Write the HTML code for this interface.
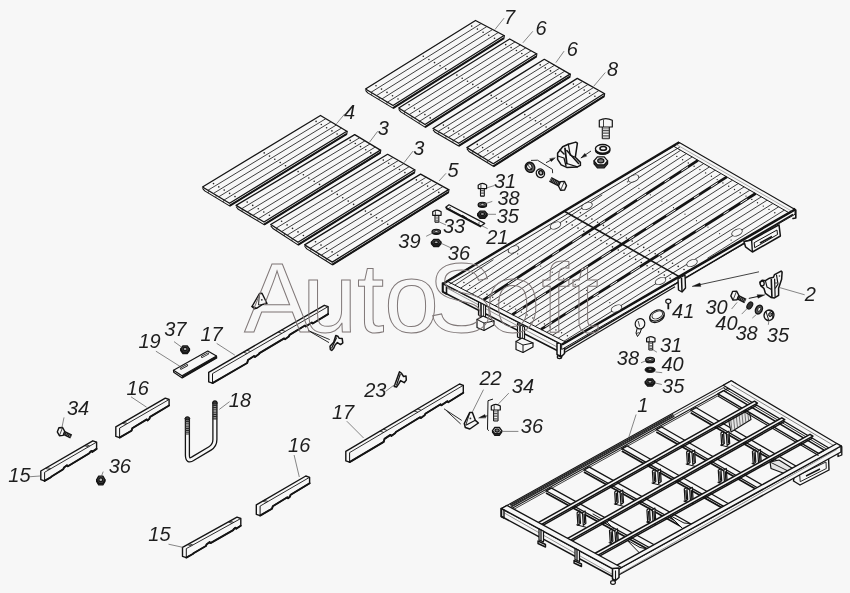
<!DOCTYPE html>
<html><head><meta charset="utf-8"><title>AutoSoft</title>
<style>
html,body{margin:0;padding:0;background:#f7f7f7;}
body{width:850px;height:593px;overflow:hidden;}
svg{display:block;will-change:transform;}
text{font-family:"Liberation Sans",sans-serif;}
.lb text{font-style:italic;fill:#1e1e1e;}
</style></head><body>
<svg width="850" height="593" viewBox="0 0 850 593">
<rect x="0" y="0" width="850" height="593" fill="#f7f7f7"/>
<polygon points="475.5,20.5 504,35.5 393,105.5 365.5,89" fill="none" stroke="#141414" stroke-width="1.3" stroke-linejoin="round" stroke-linecap="round" />
<line x1="371" y1="92.3" x2="481.2" y2="23.5" stroke="#2a2a2a" stroke-width="0.9" />
<line x1="376.5" y1="95.6" x2="486.9" y2="26.5" stroke="#2a2a2a" stroke-width="0.9" />
<line x1="382" y1="98.9" x2="492.6" y2="29.5" stroke="#2a2a2a" stroke-width="0.9" />
<line x1="387.5" y1="102.2" x2="498.3" y2="32.5" stroke="#2a2a2a" stroke-width="0.9" />
<polyline points="365.8,90.6 367.7,92.9 393,108.1 504,38.1 504.4,35.5" fill="none" stroke="#141414" stroke-width="1.1" stroke-linejoin="round" stroke-linecap="round" />
<line x1="393" y1="108.1" x2="504" y2="38.1" stroke="#141414" stroke-width="2" />
<line x1="371.6" y1="92.6" x2="371.6" y2="95.2" stroke="#141414" stroke-width="0.6" />
<line x1="379.2" y1="97.2" x2="379.2" y2="99.8" stroke="#141414" stroke-width="0.6" />
<line x1="386.9" y1="101.9" x2="386.9" y2="104.5" stroke="#141414" stroke-width="0.6" />
<circle cx="376" cy="85.8" r="0.8" fill="#222"/>
<circle cx="423.3" cy="56.3" r="0.8" fill="#222"/>
<circle cx="471.7" cy="26.1" r="0.8" fill="#222"/>
<circle cx="381.5" cy="89.1" r="0.8" fill="#222"/>
<circle cx="428.9" cy="59.5" r="0.8" fill="#222"/>
<circle cx="477.4" cy="29.1" r="0.8" fill="#222"/>
<circle cx="387" cy="92.4" r="0.8" fill="#222"/>
<circle cx="434.5" cy="62.6" r="0.8" fill="#222"/>
<circle cx="483.1" cy="32.2" r="0.8" fill="#222"/>
<circle cx="392.5" cy="95.7" r="0.8" fill="#222"/>
<circle cx="440.1" cy="65.8" r="0.8" fill="#222"/>
<circle cx="488.8" cy="35.2" r="0.8" fill="#222"/>
<circle cx="398" cy="99" r="0.8" fill="#222"/>
<circle cx="445.7" cy="68.9" r="0.8" fill="#222"/>
<circle cx="494.5" cy="38.2" r="0.8" fill="#222"/>
<polygon points="509.7,39 536.5,53.7 425,124.5 398.7,108" fill="none" stroke="#141414" stroke-width="1.3" stroke-linejoin="round" stroke-linecap="round" />
<line x1="404" y1="111.3" x2="515.1" y2="41.9" stroke="#2a2a2a" stroke-width="0.9" />
<line x1="409.2" y1="114.6" x2="520.4" y2="44.9" stroke="#2a2a2a" stroke-width="0.9" />
<line x1="414.5" y1="117.9" x2="525.8" y2="47.8" stroke="#2a2a2a" stroke-width="0.9" />
<line x1="419.7" y1="121.2" x2="531.1" y2="50.8" stroke="#2a2a2a" stroke-width="0.9" />
<polyline points="399,109.6 400.8,111.9 425,127.1 536.5,56.3 536.9,53.7" fill="none" stroke="#141414" stroke-width="1.1" stroke-linejoin="round" stroke-linecap="round" />
<line x1="425" y1="127.1" x2="536.5" y2="56.3" stroke="#141414" stroke-width="2" />
<line x1="404.5" y1="111.6" x2="404.5" y2="114.2" stroke="#141414" stroke-width="0.6" />
<line x1="411.9" y1="116.2" x2="411.9" y2="118.8" stroke="#141414" stroke-width="0.6" />
<line x1="419.2" y1="120.9" x2="419.2" y2="123.5" stroke="#141414" stroke-width="0.6" />
<circle cx="409.1" cy="104.8" r="0.8" fill="#222"/>
<circle cx="456.9" cy="75.1" r="0.8" fill="#222"/>
<circle cx="505.7" cy="44.6" r="0.8" fill="#222"/>
<circle cx="414.4" cy="108.1" r="0.8" fill="#222"/>
<circle cx="462.2" cy="78.2" r="0.8" fill="#222"/>
<circle cx="511.1" cy="47.6" r="0.8" fill="#222"/>
<circle cx="419.6" cy="111.4" r="0.8" fill="#222"/>
<circle cx="467.5" cy="81.3" r="0.8" fill="#222"/>
<circle cx="516.4" cy="50.5" r="0.8" fill="#222"/>
<circle cx="424.9" cy="114.6" r="0.8" fill="#222"/>
<circle cx="472.8" cy="84.4" r="0.8" fill="#222"/>
<circle cx="521.8" cy="53.5" r="0.8" fill="#222"/>
<circle cx="430.2" cy="117.9" r="0.8" fill="#222"/>
<circle cx="478.1" cy="87.5" r="0.8" fill="#222"/>
<circle cx="527.1" cy="56.5" r="0.8" fill="#222"/>
<polygon points="544.3,59.3 570,74.1 458.7,143.3 433,128.5" fill="none" stroke="#141414" stroke-width="1.3" stroke-linejoin="round" stroke-linecap="round" />
<line x1="438.1" y1="131.5" x2="549.4" y2="62.3" stroke="#2a2a2a" stroke-width="0.9" />
<line x1="443.3" y1="134.4" x2="554.6" y2="65.2" stroke="#2a2a2a" stroke-width="0.9" />
<line x1="448.4" y1="137.4" x2="559.7" y2="68.2" stroke="#2a2a2a" stroke-width="0.9" />
<line x1="453.6" y1="140.3" x2="564.9" y2="71.1" stroke="#2a2a2a" stroke-width="0.9" />
<polyline points="433.3,130.1 435.1,132.3 458.7,145.9 570,76.7 570.4,74.1" fill="none" stroke="#141414" stroke-width="1.1" stroke-linejoin="round" stroke-linecap="round" />
<line x1="458.7" y1="145.9" x2="570" y2="76.7" stroke="#141414" stroke-width="2" />
<line x1="438.7" y1="131.8" x2="438.7" y2="134.4" stroke="#141414" stroke-width="0.6" />
<line x1="445.9" y1="135.9" x2="445.9" y2="138.5" stroke="#141414" stroke-width="0.6" />
<line x1="453" y1="140" x2="453" y2="142.6" stroke="#141414" stroke-width="0.6" />
<circle cx="443.4" cy="125.1" r="0.8" fill="#222"/>
<circle cx="491.2" cy="95.4" r="0.8" fill="#222"/>
<circle cx="540.2" cy="64.9" r="0.8" fill="#222"/>
<circle cx="448.5" cy="128.1" r="0.8" fill="#222"/>
<circle cx="496.4" cy="98.3" r="0.8" fill="#222"/>
<circle cx="545.3" cy="67.9" r="0.8" fill="#222"/>
<circle cx="453.6" cy="131.1" r="0.8" fill="#222"/>
<circle cx="501.5" cy="101.3" r="0.8" fill="#222"/>
<circle cx="550.5" cy="70.9" r="0.8" fill="#222"/>
<circle cx="458.8" cy="134" r="0.8" fill="#222"/>
<circle cx="506.6" cy="104.3" r="0.8" fill="#222"/>
<circle cx="555.6" cy="73.8" r="0.8" fill="#222"/>
<circle cx="463.9" cy="137" r="0.8" fill="#222"/>
<circle cx="511.8" cy="107.2" r="0.8" fill="#222"/>
<circle cx="560.8" cy="76.8" r="0.8" fill="#222"/>
<polygon points="577.3,78.4 604.3,93.5 493.3,163.7 466.9,147.6" fill="none" stroke="#141414" stroke-width="1.3" stroke-linejoin="round" stroke-linecap="round" />
<line x1="472.2" y1="150.8" x2="582.7" y2="81.4" stroke="#2a2a2a" stroke-width="0.9" />
<line x1="477.5" y1="154" x2="588.1" y2="84.4" stroke="#2a2a2a" stroke-width="0.9" />
<line x1="482.7" y1="157.3" x2="593.5" y2="87.5" stroke="#2a2a2a" stroke-width="0.9" />
<line x1="488" y1="160.5" x2="598.9" y2="90.5" stroke="#2a2a2a" stroke-width="0.9" />
<polyline points="467.2,149.2 469,151.5 493.3,166.3 604.3,96.1 604.7,93.5" fill="none" stroke="#141414" stroke-width="1.1" stroke-linejoin="round" stroke-linecap="round" />
<line x1="493.3" y1="166.3" x2="604.3" y2="96.1" stroke="#141414" stroke-width="2" />
<line x1="472.7" y1="151.1" x2="472.7" y2="153.7" stroke="#141414" stroke-width="0.6" />
<line x1="480.1" y1="155.6" x2="480.1" y2="158.2" stroke="#141414" stroke-width="0.6" />
<line x1="487.5" y1="160.2" x2="487.5" y2="162.8" stroke="#141414" stroke-width="0.6" />
<circle cx="477.3" cy="144.4" r="0.8" fill="#222"/>
<circle cx="524.8" cy="114.6" r="0.8" fill="#222"/>
<circle cx="573.4" cy="84.1" r="0.8" fill="#222"/>
<circle cx="482.6" cy="147.6" r="0.8" fill="#222"/>
<circle cx="530.1" cy="117.7" r="0.8" fill="#222"/>
<circle cx="578.8" cy="87.1" r="0.8" fill="#222"/>
<circle cx="487.8" cy="150.8" r="0.8" fill="#222"/>
<circle cx="535.5" cy="120.8" r="0.8" fill="#222"/>
<circle cx="584.2" cy="90.1" r="0.8" fill="#222"/>
<circle cx="493.1" cy="154" r="0.8" fill="#222"/>
<circle cx="540.8" cy="123.9" r="0.8" fill="#222"/>
<circle cx="589.6" cy="93.2" r="0.8" fill="#222"/>
<circle cx="498.4" cy="157.2" r="0.8" fill="#222"/>
<circle cx="546.1" cy="127" r="0.8" fill="#222"/>
<circle cx="594.9" cy="96.2" r="0.8" fill="#222"/>
<polygon points="320.5,115.5 346.8,131.3 229.5,203.3 202.5,187" fill="none" stroke="#141414" stroke-width="1.3" stroke-linejoin="round" stroke-linecap="round" />
<line x1="207.9" y1="190.3" x2="325.8" y2="118.7" stroke="#2a2a2a" stroke-width="0.9" />
<line x1="213.3" y1="193.5" x2="331" y2="121.8" stroke="#2a2a2a" stroke-width="0.9" />
<line x1="218.7" y1="196.8" x2="336.3" y2="125" stroke="#2a2a2a" stroke-width="0.9" />
<line x1="224.1" y1="200" x2="341.5" y2="128.1" stroke="#2a2a2a" stroke-width="0.9" />
<polyline points="202.8,188.6 204.7,190.9 229.5,205.9 346.8,133.9 347.2,131.3" fill="none" stroke="#141414" stroke-width="1.1" stroke-linejoin="round" stroke-linecap="round" />
<line x1="229.5" y1="205.9" x2="346.8" y2="133.9" stroke="#141414" stroke-width="2" />
<line x1="208.4" y1="190.6" x2="208.4" y2="193.2" stroke="#141414" stroke-width="0.6" />
<line x1="216" y1="195.2" x2="216" y2="197.8" stroke="#141414" stroke-width="0.6" />
<line x1="223.6" y1="199.7" x2="223.6" y2="202.3" stroke="#141414" stroke-width="0.6" />
<circle cx="213.5" cy="183.6" r="0.8" fill="#222"/>
<circle cx="264.2" cy="152.9" r="0.8" fill="#222"/>
<circle cx="316.1" cy="121.4" r="0.8" fill="#222"/>
<circle cx="218.8" cy="186.9" r="0.8" fill="#222"/>
<circle cx="269.5" cy="156.1" r="0.8" fill="#222"/>
<circle cx="321.3" cy="124.5" r="0.8" fill="#222"/>
<circle cx="224.2" cy="190.1" r="0.8" fill="#222"/>
<circle cx="274.8" cy="159.3" r="0.8" fill="#222"/>
<circle cx="326.6" cy="127.7" r="0.8" fill="#222"/>
<circle cx="229.6" cy="193.4" r="0.8" fill="#222"/>
<circle cx="280.2" cy="162.5" r="0.8" fill="#222"/>
<circle cx="331.9" cy="130.9" r="0.8" fill="#222"/>
<circle cx="235" cy="196.6" r="0.8" fill="#222"/>
<circle cx="285.5" cy="165.7" r="0.8" fill="#222"/>
<circle cx="337.1" cy="134" r="0.8" fill="#222"/>
<polygon points="354.7,134.6 380.4,150.1 264,222 236.1,205.4" fill="none" stroke="#141414" stroke-width="1.3" stroke-linejoin="round" stroke-linecap="round" />
<line x1="241.7" y1="208.7" x2="359.8" y2="137.7" stroke="#2a2a2a" stroke-width="0.9" />
<line x1="247.3" y1="212" x2="365" y2="140.8" stroke="#2a2a2a" stroke-width="0.9" />
<line x1="252.8" y1="215.4" x2="370.1" y2="143.9" stroke="#2a2a2a" stroke-width="0.9" />
<line x1="258.4" y1="218.7" x2="375.3" y2="147" stroke="#2a2a2a" stroke-width="0.9" />
<polyline points="236.4,207 238.3,209.3 264,224.6 380.4,152.7 380.8,150.1" fill="none" stroke="#141414" stroke-width="1.1" stroke-linejoin="round" stroke-linecap="round" />
<line x1="264" y1="224.6" x2="380.4" y2="152.7" stroke="#141414" stroke-width="2" />
<line x1="242.2" y1="209.1" x2="242.2" y2="211.7" stroke="#141414" stroke-width="0.6" />
<line x1="250.1" y1="213.7" x2="250.1" y2="216.3" stroke="#141414" stroke-width="0.6" />
<line x1="257.9" y1="218.3" x2="257.9" y2="220.9" stroke="#141414" stroke-width="0.6" />
<circle cx="247.2" cy="202.1" r="0.8" fill="#222"/>
<circle cx="298.1" cy="171.6" r="0.8" fill="#222"/>
<circle cx="350.2" cy="140.4" r="0.8" fill="#222"/>
<circle cx="252.7" cy="205.4" r="0.8" fill="#222"/>
<circle cx="303.4" cy="174.8" r="0.8" fill="#222"/>
<circle cx="355.3" cy="143.5" r="0.8" fill="#222"/>
<circle cx="258.3" cy="208.7" r="0.8" fill="#222"/>
<circle cx="308.8" cy="178" r="0.8" fill="#222"/>
<circle cx="360.5" cy="146.6" r="0.8" fill="#222"/>
<circle cx="263.8" cy="212" r="0.8" fill="#222"/>
<circle cx="314.2" cy="181.2" r="0.8" fill="#222"/>
<circle cx="365.7" cy="149.7" r="0.8" fill="#222"/>
<circle cx="269.4" cy="215.3" r="0.8" fill="#222"/>
<circle cx="319.5" cy="184.4" r="0.8" fill="#222"/>
<circle cx="370.8" cy="152.9" r="0.8" fill="#222"/>
<polygon points="387.6,154.3 414.6,169.8 298,242.3 270.7,224.5" fill="none" stroke="#141414" stroke-width="1.3" stroke-linejoin="round" stroke-linecap="round" />
<line x1="276.2" y1="228.1" x2="393" y2="157.4" stroke="#2a2a2a" stroke-width="0.9" />
<line x1="281.6" y1="231.6" x2="398.4" y2="160.5" stroke="#2a2a2a" stroke-width="0.9" />
<line x1="287.1" y1="235.2" x2="403.8" y2="163.6" stroke="#2a2a2a" stroke-width="0.9" />
<line x1="292.5" y1="238.7" x2="409.2" y2="166.7" stroke="#2a2a2a" stroke-width="0.9" />
<polyline points="271,226.1 272.9,228.5 298,244.9 414.6,172.4 415,169.8" fill="none" stroke="#141414" stroke-width="1.1" stroke-linejoin="round" stroke-linecap="round" />
<line x1="298" y1="244.9" x2="414.6" y2="172.4" stroke="#141414" stroke-width="2" />
<line x1="276.7" y1="228.4" x2="276.7" y2="231" stroke="#141414" stroke-width="0.6" />
<line x1="284.4" y1="233.4" x2="284.4" y2="236" stroke="#141414" stroke-width="0.6" />
<line x1="292" y1="238.4" x2="292" y2="241" stroke="#141414" stroke-width="0.6" />
<circle cx="281.6" cy="221.3" r="0.8" fill="#222"/>
<circle cx="331.9" cy="191.1" r="0.8" fill="#222"/>
<circle cx="383.3" cy="160.1" r="0.8" fill="#222"/>
<circle cx="287.1" cy="224.9" r="0.8" fill="#222"/>
<circle cx="337.3" cy="194.4" r="0.8" fill="#222"/>
<circle cx="388.7" cy="163.2" r="0.8" fill="#222"/>
<circle cx="292.5" cy="228.4" r="0.8" fill="#222"/>
<circle cx="342.7" cy="197.7" r="0.8" fill="#222"/>
<circle cx="394.1" cy="166.3" r="0.8" fill="#222"/>
<circle cx="298" cy="231.9" r="0.8" fill="#222"/>
<circle cx="348.2" cy="201.1" r="0.8" fill="#222"/>
<circle cx="399.5" cy="169.5" r="0.8" fill="#222"/>
<circle cx="303.4" cy="235.5" r="0.8" fill="#222"/>
<circle cx="353.6" cy="204.4" r="0.8" fill="#222"/>
<circle cx="404.9" cy="172.6" r="0.8" fill="#222"/>
<polygon points="420.6,174.1 448.6,189.6 332.3,262.1 304.6,244.9" fill="none" stroke="#141414" stroke-width="1.3" stroke-linejoin="round" stroke-linecap="round" />
<line x1="310.1" y1="248.3" x2="426.2" y2="177.2" stroke="#2a2a2a" stroke-width="0.9" />
<line x1="315.7" y1="251.8" x2="431.8" y2="180.3" stroke="#2a2a2a" stroke-width="0.9" />
<line x1="321.2" y1="255.2" x2="437.4" y2="183.4" stroke="#2a2a2a" stroke-width="0.9" />
<line x1="326.8" y1="258.7" x2="443" y2="186.5" stroke="#2a2a2a" stroke-width="0.9" />
<polyline points="304.9,246.5 306.8,248.9 332.3,264.7 448.6,192.2 449,189.6" fill="none" stroke="#141414" stroke-width="1.1" stroke-linejoin="round" stroke-linecap="round" />
<line x1="332.3" y1="264.7" x2="448.6" y2="192.2" stroke="#141414" stroke-width="2" />
<line x1="310.7" y1="248.7" x2="310.7" y2="251.3" stroke="#141414" stroke-width="0.6" />
<line x1="318.5" y1="253.5" x2="318.5" y2="256.1" stroke="#141414" stroke-width="0.6" />
<line x1="326.2" y1="258.3" x2="326.2" y2="260.9" stroke="#141414" stroke-width="0.6" />
<circle cx="315.5" cy="241.7" r="0.8" fill="#222"/>
<circle cx="365.4" cy="211.1" r="0.8" fill="#222"/>
<circle cx="416.4" cy="179.9" r="0.8" fill="#222"/>
<circle cx="321" cy="245.1" r="0.8" fill="#222"/>
<circle cx="371" cy="214.4" r="0.8" fill="#222"/>
<circle cx="422" cy="183" r="0.8" fill="#222"/>
<circle cx="326.6" cy="248.5" r="0.8" fill="#222"/>
<circle cx="376.5" cy="217.7" r="0.8" fill="#222"/>
<circle cx="427.6" cy="186.1" r="0.8" fill="#222"/>
<circle cx="332.1" cy="251.9" r="0.8" fill="#222"/>
<circle cx="382.1" cy="220.9" r="0.8" fill="#222"/>
<circle cx="433.2" cy="189.3" r="0.8" fill="#222"/>
<circle cx="337.7" cy="255.3" r="0.8" fill="#222"/>
<circle cx="387.7" cy="224.2" r="0.8" fill="#222"/>
<circle cx="438.8" cy="192.4" r="0.8" fill="#222"/>
<polygon points="443,283.5 562,344.5 562,353 443,292" fill="#f7f7f7" stroke="#141414" stroke-width="1.5" stroke-linejoin="round" stroke-linecap="round" />
<line x1="447" y1="288" x2="560" y2="348.5" stroke="#555" stroke-width="0.6" />
<polygon points="442.5,283 446.5,285.5 446.5,294 442.5,291.5" fill="none" stroke="#141414" stroke-width="1.6" stroke-linejoin="round" stroke-linecap="round" />
<polygon points="557,343.5 564.5,341 564.5,353.5 561,357 557,354.5" fill="#f7f7f7" stroke="#141414" stroke-width="1.5" stroke-linejoin="round" stroke-linecap="round" />
<line x1="560.5" y1="344" x2="560.5" y2="356.5" stroke="#141414" stroke-width="1.2" />
<ellipse cx="559.5" cy="357" rx="2.2" ry="1.6" fill="none" stroke="#141414" stroke-width="1.2"/>
<polygon points="478.5,301.5 485.5,305 485.5,318.5 478.5,315" fill="#f7f7f7" stroke="#141414" stroke-width="1.2" stroke-linejoin="round" stroke-linecap="round" />
<line x1="481" y1="303" x2="481" y2="316.5" stroke="#141414" stroke-width="1.6" />
<line x1="483.5" y1="304.5" x2="483.5" y2="317.5" stroke="#141414" stroke-width="0.8" />
<polygon points="477,319.5 483,316 494,321 494,325 484,330.5 477,327.5" fill="#f7f7f7" stroke="#141414" stroke-width="1.2" stroke-linejoin="round" stroke-linecap="round" />
<polyline points="477,319.5 484,323 494,321" fill="none" stroke="#141414" stroke-width="1" stroke-linejoin="round" stroke-linecap="round" />
<line x1="484" y1="323" x2="484" y2="330.5" stroke="#141414" stroke-width="1" />
<polygon points="517.5,323.5 524.5,327 524.5,340.5 517.5,337" fill="#f7f7f7" stroke="#141414" stroke-width="1.2" stroke-linejoin="round" stroke-linecap="round" />
<line x1="520" y1="325" x2="520" y2="338.5" stroke="#141414" stroke-width="1.6" />
<line x1="522.5" y1="326.5" x2="522.5" y2="339.5" stroke="#141414" stroke-width="0.8" />
<polygon points="516,341.5 522,338 533,343 533,347 523,352.5 516,349.5" fill="#f7f7f7" stroke="#141414" stroke-width="1.2" stroke-linejoin="round" stroke-linecap="round" />
<polyline points="516,341.5 523,345 533,343" fill="none" stroke="#141414" stroke-width="1" stroke-linejoin="round" stroke-linecap="round" />
<line x1="523" y1="345" x2="523" y2="352.5" stroke="#141414" stroke-width="1" />
<polygon points="562,344.5 795,209.5 795,214.3 562,349.3" fill="#f7f7f7" stroke="#141414" stroke-width="1" stroke-linejoin="round" stroke-linecap="round" />
<line x1="565" y1="349.3" x2="793" y2="214.3" stroke="#141414" stroke-width="1.5" />
<line x1="565" y1="352.3" x2="675" y2="286.8" stroke="#141414" stroke-width="1.1" />
<polygon points="751.6,240 779,224.8 780.4,236 752.4,252 745.5,246.8 744,241.5" fill="#f7f7f7" stroke="#141414" stroke-width="1.5" stroke-linejoin="round" stroke-linecap="round" />
<polygon points="754.5,242.5 777,230 777.5,234.5 755,247.5" fill="none" stroke="#141414" stroke-width="1" stroke-linejoin="round" stroke-linecap="round" />
<line x1="751.6" y1="240" x2="752.4" y2="252" stroke="#141414" stroke-width="1.4" />
<line x1="760" y1="243" x2="772" y2="236.5" stroke="#141414" stroke-width="1.6" />
<line x1="744" y1="241.5" x2="751.6" y2="240" stroke="#141414" stroke-width="1" />
<polygon points="443,283.5 679.3,142.6 795,209.5 562,344.5" fill="#f7f7f7" stroke="#141414" stroke-width="1.2" stroke-linejoin="round" stroke-linecap="round" />
<line x1="444" y1="283.2" x2="679.3" y2="142.3" stroke="#141414" stroke-width="2.4" />
<line x1="449.5" y1="284.2" x2="679.8" y2="147.1" stroke="#141414" stroke-width="0.9" />
<line x1="562" y1="344.5" x2="795" y2="209.5" stroke="#141414" stroke-width="2.6" />
<line x1="673.4" y1="146.1" x2="789.2" y2="212.9" stroke="#141414" stroke-width="1" />
<line x1="676.2" y1="144.4" x2="792" y2="211.3" stroke="#666" stroke-width="0.5" />
<line x1="447" y1="281.1" x2="566" y2="342.2" stroke="#141414" stroke-width="1" />
<line x1="454.8" y1="285.1" x2="493.4" y2="259.7" stroke="#2a2a2a" stroke-width="0.9" />
<line x1="460.6" y1="288.1" x2="602.2" y2="194.9" stroke="#2a2a2a" stroke-width="0.9" />
<line x1="466.3" y1="291" x2="680.6" y2="150.3" stroke="#2a2a2a" stroke-width="0.9" />
<line x1="472" y1="294" x2="686.4" y2="153.6" stroke="#2a2a2a" stroke-width="0.9" />
<line x1="477.8" y1="296.9" x2="692.2" y2="156.9" stroke="#2a2a2a" stroke-width="0.9" />
<line x1="483.5" y1="299.9" x2="697.9" y2="160.3" stroke="#141414" stroke-width="2.8" />
<line x1="487.8" y1="297.1" x2="694.7" y2="162.4" stroke="#f7f7f7" stroke-width="1" stroke-dasharray="8 16 11 22 6 14"/>
<line x1="489.3" y1="302.8" x2="703.7" y2="163.6" stroke="#2a2a2a" stroke-width="0.9" />
<line x1="495" y1="305.8" x2="709.5" y2="166.9" stroke="#2a2a2a" stroke-width="0.9" />
<line x1="500.8" y1="308.7" x2="715.2" y2="170.2" stroke="#2a2a2a" stroke-width="0.9" />
<line x1="506.5" y1="311.7" x2="721" y2="173.6" stroke="#2a2a2a" stroke-width="0.9" />
<line x1="512.3" y1="314.6" x2="726.8" y2="176.9" stroke="#141414" stroke-width="2.8" />
<line x1="516.5" y1="311.9" x2="723.5" y2="179" stroke="#f7f7f7" stroke-width="1" stroke-dasharray="8 16 11 22 6 14"/>
<line x1="518" y1="317.6" x2="732.5" y2="180.2" stroke="#2a2a2a" stroke-width="0.9" />
<line x1="523.7" y1="320.5" x2="738.3" y2="183.5" stroke="#2a2a2a" stroke-width="0.9" />
<line x1="529.5" y1="323.5" x2="744.1" y2="186.9" stroke="#2a2a2a" stroke-width="0.9" />
<line x1="535.2" y1="326.4" x2="749.8" y2="190.2" stroke="#2a2a2a" stroke-width="0.9" />
<line x1="541" y1="329.4" x2="755.6" y2="193.5" stroke="#141414" stroke-width="2.8" />
<line x1="545.3" y1="326.7" x2="752.4" y2="195.6" stroke="#f7f7f7" stroke-width="1" stroke-dasharray="8 16 11 22 6 14"/>
<line x1="546.7" y1="332.3" x2="761.4" y2="196.8" stroke="#2a2a2a" stroke-width="0.9" />
<line x1="552.5" y1="335.3" x2="767.1" y2="200.2" stroke="#2a2a2a" stroke-width="0.9" />
<line x1="558.2" y1="338.2" x2="772.9" y2="203.5" stroke="#2a2a2a" stroke-width="0.9" />
<line x1="564" y1="341.2" x2="778.7" y2="206.8" stroke="#2a2a2a" stroke-width="0.9" />
<line x1="707.4" y1="258.3" x2="784.4" y2="210.1" stroke="#2a2a2a" stroke-width="0.9" />
<line x1="564.8" y1="211.5" x2="679.2" y2="276.6" stroke="#141414" stroke-width="1.6" />
<circle cx="463.9" cy="282.5" r="0.7" fill="#222"/>
<circle cx="469.7" cy="285.4" r="0.7" fill="#222"/>
<circle cx="566.5" cy="221.9" r="0.8" fill="#222"/>
<circle cx="580.4" cy="212.8" r="0.8" fill="#222"/>
<circle cx="517.7" cy="253.9" r="0.6" fill="#222"/>
<circle cx="627.4" cy="181.8" r="0.6" fill="#222"/>
<circle cx="475.4" cy="288.4" r="0.7" fill="#222"/>
<circle cx="572.2" cy="225" r="0.8" fill="#222"/>
<circle cx="586.1" cy="215.9" r="0.8" fill="#222"/>
<circle cx="676.8" cy="156.4" r="0.7" fill="#222"/>
<circle cx="481.2" cy="291.4" r="0.7" fill="#222"/>
<circle cx="578" cy="228.1" r="0.8" fill="#222"/>
<circle cx="591.9" cy="219.1" r="0.8" fill="#222"/>
<circle cx="682.6" cy="159.7" r="0.7" fill="#222"/>
<circle cx="529.2" cy="260" r="0.6" fill="#222"/>
<circle cx="638.9" cy="188.3" r="0.6" fill="#222"/>
<circle cx="486.9" cy="294.3" r="0.7" fill="#222"/>
<circle cx="583.8" cy="231.3" r="0.8" fill="#222"/>
<circle cx="597.6" cy="222.2" r="0.8" fill="#222"/>
<circle cx="688.3" cy="163" r="0.7" fill="#222"/>
<circle cx="492.7" cy="297.3" r="0.7" fill="#222"/>
<circle cx="589.5" cy="234.4" r="0.8" fill="#222"/>
<circle cx="603.4" cy="225.4" r="0.8" fill="#222"/>
<circle cx="694.1" cy="166.3" r="0.7" fill="#222"/>
<circle cx="540.7" cy="266.1" r="0.6" fill="#222"/>
<circle cx="650.4" cy="194.8" r="0.6" fill="#222"/>
<circle cx="498.4" cy="300.2" r="0.7" fill="#222"/>
<circle cx="595.3" cy="237.5" r="0.8" fill="#222"/>
<circle cx="609.1" cy="228.5" r="0.8" fill="#222"/>
<circle cx="699.9" cy="169.6" r="0.7" fill="#222"/>
<circle cx="504.2" cy="303.2" r="0.7" fill="#222"/>
<circle cx="601" cy="240.6" r="0.8" fill="#222"/>
<circle cx="614.9" cy="231.7" r="0.8" fill="#222"/>
<circle cx="705.6" cy="172.9" r="0.7" fill="#222"/>
<circle cx="552.2" cy="272.2" r="0.6" fill="#222"/>
<circle cx="661.9" cy="201.2" r="0.6" fill="#222"/>
<circle cx="509.9" cy="306.2" r="0.7" fill="#222"/>
<circle cx="606.8" cy="243.8" r="0.8" fill="#222"/>
<circle cx="620.7" cy="234.8" r="0.8" fill="#222"/>
<circle cx="711.4" cy="176.3" r="0.7" fill="#222"/>
<circle cx="515.6" cy="309.1" r="0.7" fill="#222"/>
<circle cx="612.5" cy="246.9" r="0.8" fill="#222"/>
<circle cx="626.4" cy="238" r="0.8" fill="#222"/>
<circle cx="717.2" cy="179.6" r="0.7" fill="#222"/>
<circle cx="563.7" cy="278.3" r="0.6" fill="#222"/>
<circle cx="673.5" cy="207.7" r="0.6" fill="#222"/>
<circle cx="521.4" cy="312.1" r="0.7" fill="#222"/>
<circle cx="618.3" cy="250" r="0.8" fill="#222"/>
<circle cx="632.2" cy="241.1" r="0.8" fill="#222"/>
<circle cx="722.9" cy="182.9" r="0.7" fill="#222"/>
<circle cx="527.1" cy="315" r="0.7" fill="#222"/>
<circle cx="624" cy="253.2" r="0.8" fill="#222"/>
<circle cx="637.9" cy="244.3" r="0.8" fill="#222"/>
<circle cx="728.7" cy="186.2" r="0.7" fill="#222"/>
<circle cx="575.2" cy="284.3" r="0.6" fill="#222"/>
<circle cx="685" cy="214.2" r="0.6" fill="#222"/>
<circle cx="532.9" cy="318" r="0.7" fill="#222"/>
<circle cx="629.8" cy="256.3" r="0.8" fill="#222"/>
<circle cx="643.7" cy="247.4" r="0.8" fill="#222"/>
<circle cx="734.5" cy="189.5" r="0.7" fill="#222"/>
<circle cx="538.6" cy="321" r="0.7" fill="#222"/>
<circle cx="635.6" cy="259.4" r="0.8" fill="#222"/>
<circle cx="649.4" cy="250.6" r="0.8" fill="#222"/>
<circle cx="740.2" cy="192.8" r="0.7" fill="#222"/>
<circle cx="586.7" cy="290.4" r="0.6" fill="#222"/>
<circle cx="696.5" cy="220.7" r="0.6" fill="#222"/>
<circle cx="544.4" cy="323.9" r="0.7" fill="#222"/>
<circle cx="641.3" cy="262.5" r="0.8" fill="#222"/>
<circle cx="655.2" cy="253.7" r="0.8" fill="#222"/>
<circle cx="746" cy="196.1" r="0.7" fill="#222"/>
<circle cx="550.1" cy="326.9" r="0.7" fill="#222"/>
<circle cx="647.1" cy="265.7" r="0.8" fill="#222"/>
<circle cx="661" cy="256.9" r="0.8" fill="#222"/>
<circle cx="751.8" cy="199.4" r="0.7" fill="#222"/>
<circle cx="598.2" cy="296.5" r="0.6" fill="#222"/>
<circle cx="708" cy="227.1" r="0.6" fill="#222"/>
<circle cx="555.9" cy="329.9" r="0.7" fill="#222"/>
<circle cx="652.8" cy="268.8" r="0.8" fill="#222"/>
<circle cx="666.7" cy="260" r="0.8" fill="#222"/>
<circle cx="757.5" cy="202.8" r="0.7" fill="#222"/>
<circle cx="561.6" cy="332.8" r="0.7" fill="#222"/>
<circle cx="658.6" cy="271.9" r="0.8" fill="#222"/>
<circle cx="672.5" cy="263.2" r="0.8" fill="#222"/>
<circle cx="763.3" cy="206.1" r="0.7" fill="#222"/>
<circle cx="609.8" cy="302.6" r="0.6" fill="#222"/>
<circle cx="719.6" cy="233.6" r="0.6" fill="#222"/>
<circle cx="567.4" cy="335.8" r="0.7" fill="#222"/>
<circle cx="664.3" cy="275.1" r="0.8" fill="#222"/>
<circle cx="678.2" cy="266.4" r="0.8" fill="#222"/>
<circle cx="769" cy="209.4" r="0.7" fill="#222"/>
<circle cx="670.1" cy="278.2" r="0.8" fill="#222"/>
<circle cx="684" cy="269.5" r="0.8" fill="#222"/>
<circle cx="774.8" cy="212.7" r="0.7" fill="#222"/>
<circle cx="731.1" cy="240.1" r="0.6" fill="#222"/>
<ellipse cx="633.5" cy="178.5" rx="5.6" ry="3.1" fill="#f7f7f7" stroke="#333" stroke-width="0.9" transform="rotate(-24 633.5 178.5)"/>
<ellipse cx="587" cy="206" rx="5.6" ry="3.1" fill="#f7f7f7" stroke="#333" stroke-width="0.9" transform="rotate(-24 587 206)"/>
<ellipse cx="555.5" cy="225.5" rx="5.6" ry="3.1" fill="#f7f7f7" stroke="#333" stroke-width="0.9" transform="rotate(-24 555.5 225.5)"/>
<ellipse cx="513.5" cy="249.5" rx="5.6" ry="3.1" fill="#f7f7f7" stroke="#333" stroke-width="0.9" transform="rotate(-24 513.5 249.5)"/>
<ellipse cx="737" cy="232.5" rx="5.6" ry="3.1" fill="#f7f7f7" stroke="#333" stroke-width="0.9" transform="rotate(-24 737 232.5)"/>
<ellipse cx="692" cy="263" rx="5.6" ry="3.1" fill="#f7f7f7" stroke="#333" stroke-width="0.9" transform="rotate(-24 692 263)"/>
<ellipse cx="660.5" cy="281" rx="5.6" ry="3.1" fill="#f7f7f7" stroke="#333" stroke-width="0.9" transform="rotate(-24 660.5 281)"/>
<ellipse cx="616.5" cy="308.5" rx="5.6" ry="3.1" fill="#f7f7f7" stroke="#333" stroke-width="0.9" transform="rotate(-24 616.5 308.5)"/>
<polyline points="794,208.5 795.8,210 795.8,218 793,218.5" fill="none" stroke="#141414" stroke-width="1.6" stroke-linejoin="round" stroke-linecap="round" />
<polygon points="678,279 685,275 685.5,288 682,292 678.5,290" fill="#f7f7f7" stroke="#141414" stroke-width="1.4" stroke-linejoin="round" stroke-linecap="round" />
<line x1="681.5" y1="278" x2="682" y2="291.5" stroke="#141414" stroke-width="1.5" />
<polygon points="546,490.7 652.9,549.5 657.8,546.8 551.1,487.9" fill="#f7f7f7" stroke="#141414" stroke-width="1.3" stroke-linejoin="round" stroke-linecap="round" />
<line x1="546" y1="493.1" x2="652.9" y2="551.9" stroke="#141414" stroke-width="1.7" />
<polygon points="577.1,512.8 579.7,511 580.5,523.3 577.9,525.3" fill="#f7f7f7" stroke="#141414" stroke-width="1.2" stroke-linejoin="round" stroke-linecap="round" />
<line x1="578.7" y1="513.8" x2="579.3" y2="523.3" stroke="#141414" stroke-width="1.3" />
<polygon points="582.5,512.8 585.1,511 585.9,523.3 583.3,525.3" fill="#f7f7f7" stroke="#141414" stroke-width="1.2" stroke-linejoin="round" stroke-linecap="round" />
<line x1="584.1" y1="513.8" x2="584.7" y2="523.3" stroke="#141414" stroke-width="1.3" />
<line x1="576.3" y1="524.8" x2="586.3" y2="527.3" stroke="#141414" stroke-width="1" />
<polygon points="609.5,530.6 612.1,528.8 612.9,541.1 610.3,543.1" fill="#f7f7f7" stroke="#141414" stroke-width="1.2" stroke-linejoin="round" stroke-linecap="round" />
<line x1="611.1" y1="531.6" x2="611.7" y2="541.1" stroke="#141414" stroke-width="1.3" />
<polygon points="614.9,530.6 617.5,528.8 618.3,541.1 615.7,543.1" fill="#f7f7f7" stroke="#141414" stroke-width="1.2" stroke-linejoin="round" stroke-linecap="round" />
<line x1="616.5" y1="531.6" x2="617.1" y2="541.1" stroke="#141414" stroke-width="1.3" />
<line x1="608.7" y1="542.6" x2="618.7" y2="545.1" stroke="#141414" stroke-width="1" />
<polygon points="583.9,469.7 690,529 695,526.2 589,466.9" fill="#f7f7f7" stroke="#141414" stroke-width="1.3" stroke-linejoin="round" stroke-linecap="round" />
<line x1="583.9" y1="472.1" x2="690" y2="531.4" stroke="#141414" stroke-width="1.7" />
<polygon points="614.7,491.9 617.3,490.1 618.1,502.4 615.5,504.4" fill="#f7f7f7" stroke="#141414" stroke-width="1.2" stroke-linejoin="round" stroke-linecap="round" />
<line x1="616.3" y1="492.9" x2="616.9" y2="502.4" stroke="#141414" stroke-width="1.3" />
<polygon points="620.1,491.9 622.7,490.1 623.5,502.4 620.9,504.4" fill="#f7f7f7" stroke="#141414" stroke-width="1.2" stroke-linejoin="round" stroke-linecap="round" />
<line x1="621.7" y1="492.9" x2="622.3" y2="502.4" stroke="#141414" stroke-width="1.3" />
<line x1="613.9" y1="503.9" x2="623.9" y2="506.4" stroke="#141414" stroke-width="1" />
<polygon points="646.9,509.9 649.5,508.1 650.3,520.4 647.7,522.4" fill="#f7f7f7" stroke="#141414" stroke-width="1.2" stroke-linejoin="round" stroke-linecap="round" />
<line x1="648.5" y1="510.9" x2="649.1" y2="520.4" stroke="#141414" stroke-width="1.3" />
<polygon points="652.3,509.9 654.9,508.1 655.7,520.4 653.1,522.4" fill="#f7f7f7" stroke="#141414" stroke-width="1.2" stroke-linejoin="round" stroke-linecap="round" />
<line x1="653.9" y1="510.9" x2="654.5" y2="520.4" stroke="#141414" stroke-width="1.3" />
<line x1="646.1" y1="521.9" x2="656.1" y2="524.4" stroke="#141414" stroke-width="1" />
<polygon points="621.8,448.6 727.2,508.4 732.1,505.7 626.9,445.8" fill="#f7f7f7" stroke="#141414" stroke-width="1.3" stroke-linejoin="round" stroke-linecap="round" />
<line x1="621.8" y1="451" x2="727.2" y2="510.8" stroke="#141414" stroke-width="1.7" />
<polygon points="652.4,471 655,469.2 655.8,481.5 653.2,483.5" fill="#f7f7f7" stroke="#141414" stroke-width="1.2" stroke-linejoin="round" stroke-linecap="round" />
<line x1="654" y1="472" x2="654.6" y2="481.5" stroke="#141414" stroke-width="1.3" />
<polygon points="657.8,471 660.4,469.2 661.2,481.5 658.6,483.5" fill="#f7f7f7" stroke="#141414" stroke-width="1.2" stroke-linejoin="round" stroke-linecap="round" />
<line x1="659.4" y1="472" x2="660" y2="481.5" stroke="#141414" stroke-width="1.3" />
<line x1="651.6" y1="483" x2="661.6" y2="485.5" stroke="#141414" stroke-width="1" />
<polygon points="684.3,489.1 686.9,487.3 687.7,499.6 685.1,501.6" fill="#f7f7f7" stroke="#141414" stroke-width="1.2" stroke-linejoin="round" stroke-linecap="round" />
<line x1="685.9" y1="490.1" x2="686.5" y2="499.6" stroke="#141414" stroke-width="1.3" />
<polygon points="689.7,489.1 692.3,487.3 693.1,499.6 690.5,501.6" fill="#f7f7f7" stroke="#141414" stroke-width="1.2" stroke-linejoin="round" stroke-linecap="round" />
<line x1="691.3" y1="490.1" x2="691.9" y2="499.6" stroke="#141414" stroke-width="1.3" />
<line x1="683.5" y1="501.1" x2="693.5" y2="503.6" stroke="#141414" stroke-width="1" />
<polygon points="656.3,429.5 760.9,489.7 765.9,487 661.3,426.7" fill="#f7f7f7" stroke="#141414" stroke-width="1.3" stroke-linejoin="round" stroke-linecap="round" />
<line x1="656.3" y1="431.9" x2="760.9" y2="492.1" stroke="#141414" stroke-width="1.7" />
<polygon points="686.6,452 689.2,450.2 690,462.5 687.4,464.5" fill="#f7f7f7" stroke="#141414" stroke-width="1.2" stroke-linejoin="round" stroke-linecap="round" />
<line x1="688.2" y1="453" x2="688.8" y2="462.5" stroke="#141414" stroke-width="1.3" />
<polygon points="692,452 694.6,450.2 695.4,462.5 692.8,464.5" fill="#f7f7f7" stroke="#141414" stroke-width="1.2" stroke-linejoin="round" stroke-linecap="round" />
<line x1="693.6" y1="453" x2="694.2" y2="462.5" stroke="#141414" stroke-width="1.3" />
<line x1="685.8" y1="464" x2="695.8" y2="466.5" stroke="#141414" stroke-width="1" />
<polygon points="718.3,470.3 720.9,468.5 721.7,480.8 719.1,482.8" fill="#f7f7f7" stroke="#141414" stroke-width="1.2" stroke-linejoin="round" stroke-linecap="round" />
<line x1="719.9" y1="471.3" x2="720.5" y2="480.8" stroke="#141414" stroke-width="1.3" />
<polygon points="723.7,470.3 726.3,468.5 727.1,480.8 724.5,482.8" fill="#f7f7f7" stroke="#141414" stroke-width="1.2" stroke-linejoin="round" stroke-linecap="round" />
<line x1="725.3" y1="471.3" x2="725.9" y2="480.8" stroke="#141414" stroke-width="1.3" />
<line x1="717.5" y1="482.3" x2="727.5" y2="484.8" stroke="#141414" stroke-width="1" />
<polygon points="690.7,410.3 794.7,471 799.7,468.3 695.8,407.5" fill="#f7f7f7" stroke="#141414" stroke-width="1.3" stroke-linejoin="round" stroke-linecap="round" />
<line x1="690.7" y1="412.7" x2="794.7" y2="473.4" stroke="#141414" stroke-width="1.7" />
<polygon points="720.9,433 723.5,431.2 724.3,443.5 721.7,445.5" fill="#f7f7f7" stroke="#141414" stroke-width="1.2" stroke-linejoin="round" stroke-linecap="round" />
<line x1="722.5" y1="434" x2="723.1" y2="443.5" stroke="#141414" stroke-width="1.3" />
<polygon points="726.3,433 728.9,431.2 729.7,443.5 727.1,445.5" fill="#f7f7f7" stroke="#141414" stroke-width="1.2" stroke-linejoin="round" stroke-linecap="round" />
<line x1="727.9" y1="434" x2="728.5" y2="443.5" stroke="#141414" stroke-width="1.3" />
<line x1="720.1" y1="445" x2="730.1" y2="447.5" stroke="#141414" stroke-width="1" />
<polygon points="752.4,451.4 755,449.6 755.8,461.9 753.2,463.9" fill="#f7f7f7" stroke="#141414" stroke-width="1.2" stroke-linejoin="round" stroke-linecap="round" />
<line x1="754" y1="452.4" x2="754.6" y2="461.9" stroke="#141414" stroke-width="1.3" />
<polygon points="757.8,451.4 760.4,449.6 761.2,461.9 758.6,463.9" fill="#f7f7f7" stroke="#141414" stroke-width="1.2" stroke-linejoin="round" stroke-linecap="round" />
<line x1="759.4" y1="452.4" x2="760" y2="461.9" stroke="#141414" stroke-width="1.3" />
<line x1="751.6" y1="463.4" x2="761.6" y2="465.9" stroke="#141414" stroke-width="1" />
<polygon points="770,462 779,460 795,470 787,474.5 771,468.5" fill="#e6e6e6" stroke="#141414" stroke-width="1.2" stroke-linejoin="round" stroke-linecap="round" />
<line x1="770" y1="462" x2="787" y2="470.5" stroke="#141414" stroke-width="0.9" />
<line x1="787" y1="470.5" x2="795" y2="470" stroke="#141414" stroke-width="0.9" />
<line x1="787" y1="470.5" x2="787" y2="474.5" stroke="#141414" stroke-width="0.9" />
<polygon points="669,515 684,523 700,524.5 683,528.5" fill="#f7f7f7" stroke="#141414" stroke-width="1" stroke-linejoin="round" stroke-linecap="round" />
<polygon points="627,540 640,547.5 653,550 640,553" fill="#f7f7f7" stroke="#141414" stroke-width="1" stroke-linejoin="round" stroke-linecap="round" />
<polyline points="593,514 607,522 614,529" fill="none" stroke="#141414" stroke-width="0.9" stroke-linejoin="round" stroke-linecap="round" />
<polyline points="703,497 722,507.5 735,506" fill="none" stroke="#141414" stroke-width="0.9" stroke-linejoin="round" stroke-linecap="round" />
<polygon points="728,417 748,406 751,419.5 731,432" fill="#e4e4e4" stroke="#141414" stroke-width="1.1" stroke-linejoin="round" stroke-linecap="round" />
<line x1="730.5" y1="417.5" x2="731.9" y2="430.5" stroke="#444" stroke-width="0.7" />
<line x1="733.3" y1="415.9" x2="734.7" y2="428.9" stroke="#444" stroke-width="0.7" />
<line x1="736.1" y1="414.4" x2="737.5" y2="427.4" stroke="#444" stroke-width="0.7" />
<line x1="738.9" y1="412.9" x2="740.3" y2="425.9" stroke="#444" stroke-width="0.7" />
<line x1="741.7" y1="411.3" x2="743.1" y2="424.3" stroke="#444" stroke-width="0.7" />
<line x1="744.5" y1="409.8" x2="745.9" y2="422.8" stroke="#444" stroke-width="0.7" />
<line x1="747.3" y1="408.2" x2="748.7" y2="421.2" stroke="#444" stroke-width="0.7" />
<polygon points="794.5,473 828.5,456.5 829,470 800,485 793.5,481" fill="#f7f7f7" stroke="#141414" stroke-width="1.4" stroke-linejoin="round" stroke-linecap="round" />
<polygon points="800,474.5 826,462 826.3,468.5 800.6,481.5" fill="none" stroke="#141414" stroke-width="0.9" stroke-linejoin="round" stroke-linecap="round" />
<line x1="800" y1="474.5" x2="794.5" y2="473" stroke="#141414" stroke-width="1" />
<line x1="806" y1="476" x2="820" y2="469" stroke="#141414" stroke-width="1.5" />
<polygon points="501.5,508.5 731.3,380.8 736.2,383.7 506.7,511.3" fill="#f7f7f7" stroke="#141414" stroke-width="1.1" stroke-linejoin="round" stroke-linecap="round" />
<line x1="510.7" y1="505.9" x2="673.8" y2="415.3" stroke="#2a2a2a" stroke-width="3.6" />
<line x1="510.7" y1="505.9" x2="673.8" y2="415.3" stroke="#777" stroke-width="1.2" stroke-dasharray="0.8 1.6"/>
<line x1="673.8" y1="415.3" x2="728.9" y2="384.7" stroke="#555" stroke-width="1" />
<line x1="506.7" y1="513.3" x2="736.2" y2="385.7" stroke="#141414" stroke-width="0.8" />
<polygon points="731.3,380.8 841,446 833.1,450.4 723.3,385.3" fill="#f7f7f7" stroke="#141414" stroke-width="1.2" stroke-linejoin="round" stroke-linecap="round" />
<line x1="731.1" y1="384.7" x2="834.3" y2="445.9" stroke="#555" stroke-width="0.7" />
<line x1="723.3" y1="387.8" x2="833.1" y2="452.9" stroke="#141414" stroke-width="0.9" />
<polyline points="840.5,445.5 841.8,446.8 841.8,455 838,456.5 838,448" fill="none" stroke="#141414" stroke-width="1.3" stroke-linejoin="round" stroke-linecap="round" />
<polygon points="616,570.5 841,446 841,452 616,576.5" fill="#f7f7f7" stroke="#141414" stroke-width="1.4" stroke-linejoin="round" stroke-linecap="round" />
<polygon points="616,570.5 841,446 836.8,443.5 611.6,568.1" fill="#f7f7f7" stroke="#141414" stroke-width="1.4" stroke-linejoin="round" stroke-linecap="round" />
<line x1="620" y1="573.5" x2="837" y2="449.4" stroke="#555" stroke-width="0.6" />
<polygon points="723.6,390.7 824.2,450.2 818.6,453.4 717.9,393.9" fill="#f7f7f7" stroke="#141414" stroke-width="1.4" stroke-linejoin="round" stroke-linecap="round" />
<line x1="717.9" y1="396.1" x2="818.6" y2="455.6" stroke="#141414" stroke-width="1.2" />
<polygon points="535.5,524.2 754.5,401.2 757.4,403.1 538.4,526.1" fill="#f7f7f7" stroke="#141414" stroke-width="1.5" stroke-linejoin="round" stroke-linecap="round" />
<line x1="538.4" y1="527.8" x2="757.4" y2="404.8" stroke="#141414" stroke-width="1.5" />
<polygon points="565,539.8 781.8,417.8 784.7,419.7 567.9,541.7" fill="#f7f7f7" stroke="#141414" stroke-width="1.5" stroke-linejoin="round" stroke-linecap="round" />
<line x1="567.9" y1="543.4" x2="784.7" y2="421.4" stroke="#141414" stroke-width="1.5" />
<polygon points="592,555 810,434.3 812.9,436.2 594.9,556.9" fill="#f7f7f7" stroke="#141414" stroke-width="1.5" stroke-linejoin="round" stroke-linecap="round" />
<line x1="594.9" y1="558.6" x2="812.9" y2="437.9" stroke="#141414" stroke-width="1.5" />
<polygon points="501.5,508.5 616,570.5 616,578.5 501.5,516.5" fill="#f7f7f7" stroke="#141414" stroke-width="1.5" stroke-linejoin="round" stroke-linecap="round" />
<polygon points="501.5,508.5 616,570.5 621.4,567.5 507,505.4" fill="#f7f7f7" stroke="#141414" stroke-width="1.4" stroke-linejoin="round" stroke-linecap="round" />
<line x1="504.5" y1="513.1" x2="613" y2="574.7" stroke="#555" stroke-width="0.6" />
<polyline points="501,508.5 501,516.5 504,518 504,510" fill="none" stroke="#141414" stroke-width="1.4" stroke-linejoin="round" stroke-linecap="round" />
<polygon points="612.5,568.5 619,568 619,577.5 615.5,580.5 612.5,579" fill="#f7f7f7" stroke="#141414" stroke-width="1.5" stroke-linejoin="round" stroke-linecap="round" />
<line x1="615.5" y1="570.5" x2="615.5" y2="580.5" stroke="#141414" stroke-width="1.1" />
<ellipse cx="613" cy="582.5" rx="2.4" ry="1.8" fill="none" stroke="#141414" stroke-width="1.2"/>
<polygon points="539,529 543.5,531.2 543.5,542 539,540" fill="#f7f7f7" stroke="#141414" stroke-width="1.2" stroke-linejoin="round" stroke-linecap="round" />
<line x1="541" y1="530" x2="541" y2="541" stroke="#141414" stroke-width="1.3" />
<polygon points="538,541 545.5,544.5 545.5,547 538,543.5" fill="#f7f7f7" stroke="#141414" stroke-width="1.4" stroke-linejoin="round" stroke-linecap="round" />
<polygon points="575,548.5 579.5,550.7 579.5,561.5 575,559.5" fill="#f7f7f7" stroke="#141414" stroke-width="1.2" stroke-linejoin="round" stroke-linecap="round" />
<line x1="577" y1="549.5" x2="577" y2="560.5" stroke="#141414" stroke-width="1.3" />
<polygon points="574,560.5 581.5,564 581.5,566.5 574,563" fill="#f7f7f7" stroke="#141414" stroke-width="1.4" stroke-linejoin="round" stroke-linecap="round" />
<polygon points="40.8,471 92.8,440.8 96.6,442.1 96.6,448.9 92.2,451.9 91.4,450.9 90.1,452.1 89.3,453.3 67.8,466.3 67,465.3 64.1,467.4 63.3,469.2 51.6,476.5 50.8,477.3 44.6,480.9 40.8,479.6" fill="#f7f7f7" stroke="#141414" stroke-width="1.4" stroke-linejoin="round" stroke-linecap="round" />
<polyline points="44.6,480.9 50.8,477.3 51.6,476.5 63.3,469.2 64.1,467.4 67,465.3 67.8,466.3 89.3,453.3 90.1,452.1 91.4,450.9 92.2,451.9 96.6,448.9" fill="none" stroke="#141414" stroke-width="1.9" stroke-linejoin="round" stroke-linecap="round" />
<line x1="44.6" y1="472.3" x2="96.6" y2="442.1" stroke="#141414" stroke-width="0.9" />
<line x1="44.6" y1="472.3" x2="44.6" y2="480.9" stroke="#141414" stroke-width="1" />
<line x1="45.5" y1="468.3" x2="49.3" y2="469.6" stroke="#141414" stroke-width="0.8" />
<line x1="47" y1="467.4" x2="50.8" y2="468.7" stroke="#141414" stroke-width="0.8" />
<line x1="84.5" y1="445.6" x2="88.3" y2="446.9" stroke="#141414" stroke-width="0.8" />
<line x1="86" y1="444.7" x2="89.8" y2="446" stroke="#141414" stroke-width="0.8" />
<polygon points="115.8,426.8 165.3,398.2 169.1,399.5 169.1,405.5 150.1,416.9 149.3,418.9 147.6,420.4 146.8,419.4 132.3,428.2 131.5,430.7 119.6,437.6 115.8,436.3" fill="#f7f7f7" stroke="#141414" stroke-width="1.4" stroke-linejoin="round" stroke-linecap="round" />
<polyline points="119.6,437.6 131.5,430.7 132.3,428.2 146.8,419.4 147.6,420.4 149.3,418.9 150.1,416.9 169.1,405.5" fill="none" stroke="#141414" stroke-width="1.9" stroke-linejoin="round" stroke-linecap="round" />
<line x1="119.6" y1="428.1" x2="169.1" y2="399.5" stroke="#141414" stroke-width="0.9" />
<line x1="119.6" y1="428.1" x2="119.6" y2="437.6" stroke="#141414" stroke-width="1" />
<line x1="122.2" y1="423.1" x2="126" y2="424.4" stroke="#141414" stroke-width="0.8" />
<line x1="123.7" y1="422.2" x2="127.5" y2="423.5" stroke="#141414" stroke-width="0.8" />
<polygon points="182.5,547.3 237,517.2 240.8,518.5 240.8,525.7 236.2,528.7 235.4,527.7 234,528.9 233.2,530.1 210.5,543.1 209.7,542.1 206.7,544.2 205.9,546 193.6,553.2 192.8,554 186.3,557.6 182.5,556.3" fill="#f7f7f7" stroke="#141414" stroke-width="1.4" stroke-linejoin="round" stroke-linecap="round" />
<polyline points="186.3,557.6 192.8,554 193.6,553.2 205.9,546 206.7,544.2 209.7,542.1 210.5,543.1 233.2,530.1 234,528.9 235.4,527.7 236.2,528.7 240.8,525.7" fill="none" stroke="#141414" stroke-width="1.9" stroke-linejoin="round" stroke-linecap="round" />
<line x1="186.3" y1="548.6" x2="240.8" y2="518.5" stroke="#141414" stroke-width="0.9" />
<line x1="186.3" y1="548.6" x2="186.3" y2="557.6" stroke="#141414" stroke-width="1" />
<line x1="187.4" y1="544.6" x2="191.2" y2="545.9" stroke="#141414" stroke-width="0.8" />
<line x1="189" y1="543.7" x2="192.8" y2="545" stroke="#141414" stroke-width="0.8" />
<line x1="228.3" y1="522" x2="232.1" y2="523.3" stroke="#141414" stroke-width="0.8" />
<line x1="229.9" y1="521.1" x2="233.7" y2="522.4" stroke="#141414" stroke-width="0.8" />
<polygon points="256.3,504.8 305.8,476 309.6,477.3 309.6,483.3 290.6,494.8 289.8,496.8 288.1,498.3 287.3,497.3 272.8,506.2 272,508.7 260.1,515.6 256.3,514.3" fill="#f7f7f7" stroke="#141414" stroke-width="1.4" stroke-linejoin="round" stroke-linecap="round" />
<polyline points="260.1,515.6 272,508.7 272.8,506.2 287.3,497.3 288.1,498.3 289.8,496.8 290.6,494.8 309.6,483.3" fill="none" stroke="#141414" stroke-width="1.9" stroke-linejoin="round" stroke-linecap="round" />
<line x1="260.1" y1="506.1" x2="309.6" y2="477.3" stroke="#141414" stroke-width="0.9" />
<line x1="260.1" y1="506.1" x2="260.1" y2="515.6" stroke="#141414" stroke-width="1" />
<line x1="262.7" y1="501.1" x2="266.5" y2="502.4" stroke="#141414" stroke-width="0.8" />
<line x1="264.2" y1="500.2" x2="268" y2="501.5" stroke="#141414" stroke-width="0.8" />
<polygon points="208.7,372.3 324.3,305.3 328.1,306.6 328.1,314.1 312.7,323.5 311.9,322.5 305.8,326.5 305,325.5 289.6,334.9 288.8,336.5 285,339.2 284.2,338.4 259.5,353.1 258.7,354.3 254.9,357 254.1,356 248,360 247.2,363 212.5,383.1 208.7,381.8" fill="#f7f7f7" stroke="#141414" stroke-width="1.4" stroke-linejoin="round" stroke-linecap="round" />
<polyline points="212.5,383.1 247.2,363 248,360 254.1,356 254.9,357 258.7,354.3 259.5,353.1 284.2,338.4 285,339.2 288.8,336.5 289.6,334.9 305,325.5 305.8,326.5 311.9,322.5 312.7,323.5 328.1,314.1" fill="none" stroke="#141414" stroke-width="1.9" stroke-linejoin="round" stroke-linecap="round" />
<line x1="212.5" y1="373.6" x2="328.1" y2="306.6" stroke="#141414" stroke-width="0.9" />
<line x1="212.5" y1="373.6" x2="212.5" y2="383.1" stroke="#141414" stroke-width="1" />
<line x1="243.4" y1="352.2" x2="247.2" y2="353.5" stroke="#141414" stroke-width="0.8" />
<line x1="246.8" y1="350.2" x2="250.6" y2="351.5" stroke="#141414" stroke-width="0.8" />
<line x1="278.1" y1="332.1" x2="281.9" y2="333.4" stroke="#141414" stroke-width="0.8" />
<line x1="281.5" y1="330.1" x2="285.3" y2="331.4" stroke="#141414" stroke-width="0.8" />
<polygon points="345.8,451.3 459.5,384 463.3,385.3 463.3,392.8 448.2,402.2 447.4,401.2 441.4,405.3 440.6,404.3 425.4,413.7 424.6,415.3 420.9,418 420.1,417.2 395.9,432 395.1,433.2 391.3,435.9 390.5,434.9 384.5,438.9 383.7,441.9 349.6,462.1 345.8,460.8" fill="#f7f7f7" stroke="#141414" stroke-width="1.4" stroke-linejoin="round" stroke-linecap="round" />
<polyline points="349.6,462.1 383.7,441.9 384.5,438.9 390.5,434.9 391.3,435.9 395.1,433.2 395.9,432 420.1,417.2 420.9,418 424.6,415.3 425.4,413.7 440.6,404.3 441.4,405.3 447.4,401.2 448.2,402.2 463.3,392.8" fill="none" stroke="#141414" stroke-width="1.9" stroke-linejoin="round" stroke-linecap="round" />
<line x1="349.6" y1="452.6" x2="463.3" y2="385.3" stroke="#141414" stroke-width="0.9" />
<line x1="349.6" y1="452.6" x2="349.6" y2="462.1" stroke="#141414" stroke-width="1" />
<line x1="379.9" y1="431.1" x2="383.7" y2="432.4" stroke="#141414" stroke-width="0.8" />
<line x1="383.3" y1="429.1" x2="387.1" y2="430.4" stroke="#141414" stroke-width="0.8" />
<line x1="414" y1="410.9" x2="417.8" y2="412.2" stroke="#141414" stroke-width="0.8" />
<line x1="417.4" y1="408.9" x2="421.2" y2="410.2" stroke="#141414" stroke-width="0.8" />
<path d="M187.4 418.8 L187.4 455 Q187.4 462.5 193 458.6 L210 448.4 Q214.9 445.4 214.9 439.5 L214.9 403" fill="none" stroke="#141414" stroke-width="5.3" stroke-linejoin="round" stroke-linecap="round" />
<path d="M187.4 418.8 L187.4 455 Q187.4 462.5 193 458.6 L210 448.4 Q214.9 445.4 214.9 439.5 L214.9 403" fill="none" stroke="#f7f7f7" stroke-width="2.7" stroke-linejoin="round" stroke-linecap="round" />
<line x1="187.4" y1="419" x2="187.4" y2="435" stroke="#2a2a2a" stroke-width="4.6" stroke-dasharray="1.2 0.6"/>
<line x1="214.9" y1="403.2" x2="214.9" y2="420" stroke="#2a2a2a" stroke-width="4.6" stroke-dasharray="1.2 0.6"/>
<ellipse cx="187.4" cy="418.8" rx="2.5" ry="1.1" fill="#444" stroke="#141414" stroke-width="1"/>
<ellipse cx="214.9" cy="403" rx="2.5" ry="1.1" fill="#444" stroke="#141414" stroke-width="1"/>
<polygon points="173.5,370.3 207.8,351 216.5,356 182,375.8" fill="#f7f7f7" stroke="#141414" stroke-width="1.2" stroke-linejoin="round" stroke-linecap="round" />
<polyline points="173.5,370.3 173.7,372.3 182.2,378 216.7,358 216.5,356" fill="none" stroke="#141414" stroke-width="1.2" stroke-linejoin="round" stroke-linecap="round" />
<line x1="182.1" y1="377" x2="216.6" y2="357.2" stroke="#141414" stroke-width="2" />
<path d="M181 368.5 L187 365.2" fill="none" stroke="#141414" stroke-width="2.2" stroke-linejoin="round" stroke-linecap="round" />
<path d="M181 368.5 L187 365.2" fill="none" stroke="#f7f7f7" stroke-width="0.8" stroke-linejoin="round" stroke-linecap="round" />
<path d="M202 356.8 L208 353.6" fill="none" stroke="#141414" stroke-width="2.2" stroke-linejoin="round" stroke-linecap="round" />
<path d="M202 356.8 L208 353.6" fill="none" stroke="#f7f7f7" stroke-width="0.8" stroke-linejoin="round" stroke-linecap="round" />
<path d="M599.3 120.3 Q605.8 116.9 612.3 120.3 L612.3 127 L599.3 127 Z" fill="#f7f7f7" stroke="#141414" stroke-width="1.2" stroke-linejoin="round" stroke-linecap="round" />
<line x1="603.5" y1="119.7" x2="603.5" y2="127" stroke="#141414" stroke-width="0.8" />
<line x1="602.3" y1="127" x2="602.3" y2="138.7" stroke="#141414" stroke-width="1.1" />
<line x1="609.3" y1="127" x2="609.3" y2="138.7" stroke="#141414" stroke-width="1.1" />
<line x1="602.3" y1="138.7" x2="609.3" y2="138.7" stroke="#141414" stroke-width="1" />
<line x1="605.8" y1="128.5" x2="605.8" y2="138.7" stroke="#555" stroke-width="6.4" stroke-dasharray="0.8 0.8"/>
<ellipse cx="602.7" cy="150.2" rx="7.3" ry="4.3" fill="#141414" stroke="#141414" stroke-width="1.2"/>
<ellipse cx="602.7" cy="148.8" rx="7.3" ry="4.3" fill="#f7f7f7" stroke="#141414" stroke-width="1.3"/>
<ellipse cx="603.2" cy="148.4" rx="3.2" ry="1.9" fill="#f7f7f7" stroke="#141414" stroke-width="1.6"/>
<polyline points="607.6,160.8 607.6,163.8 604.2,167.8 597.4,167.8 594,163.8 594,160.8" fill="#333" stroke="#141414" stroke-width="1.2" stroke-linejoin="round" stroke-linecap="round" />
<polygon points="607.6,160.8 604.2,164.8 597.4,164.8 594,160.8 597.4,156.8 604.2,156.8" fill="#f7f7f7" stroke="#141414" stroke-width="1.3" stroke-linejoin="round" stroke-linecap="round" />
<ellipse cx="600.8" cy="160.8" rx="3.1" ry="2.1" fill="#777" stroke="#141414" stroke-width="1.2"/>
<polygon points="557.6,153.3 562.7,146.7 568.3,144.2 575.8,142.1 577.4,143.1 575.3,157.3 580.4,162.4 580.4,165.4 577.4,166.9 566.7,167.4 561.2,164.9 557.6,159.3" fill="#f7f7f7" stroke="#141414" stroke-width="1.5" stroke-linejoin="round" stroke-linecap="round" />
<polyline points="565,148.5 566.8,163.5" fill="none" stroke="#141414" stroke-width="1.8" stroke-linejoin="round" stroke-linecap="round" />
<polyline points="566.8,150.5 578.5,163.5" fill="none" stroke="#141414" stroke-width="1.5" stroke-linejoin="round" stroke-linecap="round" />
<polyline points="568.3,144.2 570.3,155.3 575.3,157.3" fill="none" stroke="#141414" stroke-width="1.2" stroke-linejoin="round" stroke-linecap="round" />
<polyline points="566.8,163.5 577.4,166.9" fill="none" stroke="#141414" stroke-width="1.2" stroke-linejoin="round" stroke-linecap="round" />
<polyline points="557.6,156 564,158 566,166" fill="none" stroke="#141414" stroke-width="1.3" stroke-linejoin="round" stroke-linecap="round" />
<path d="M560 150 L564 154" fill="none" stroke="#141414" stroke-width="1.5" stroke-linejoin="round" stroke-linecap="round" />
<line x1="580.8" y1="158" x2="591" y2="151" stroke="#141414" stroke-width="0.9" />
<polygon points="581.5,157.5 584.8,153.4 586.5,155.9" fill="#141414" stroke="#141414" stroke-width="0.5" stroke-linejoin="round" stroke-linecap="round" />
<line x1="546" y1="162.7" x2="553" y2="159" stroke="#141414" stroke-width="0.9" />
<polygon points="555,158 551.3,161.6 549.9,159" fill="#141414" stroke="#141414" stroke-width="0.5" stroke-linejoin="round" stroke-linecap="round" />
<polyline points="531.4,160.4 537.5,160.2 552.4,169.3 552.6,172.8" fill="none" stroke="#141414" stroke-width="0.9" stroke-linejoin="round" stroke-linecap="round" />
<ellipse cx="530" cy="167.3" rx="4.6" ry="5.2" fill="#666" stroke="#141414" stroke-width="1.4" transform="rotate(-30 530 167.3)"/>
<ellipse cx="529.3" cy="166.8" rx="2.6" ry="3" fill="#f7f7f7" stroke="#141414" stroke-width="1" transform="rotate(-30 529.3 166.8)"/>
<line x1="527" y1="164" x2="532" y2="170" stroke="#141414" stroke-width="0.8" />
<ellipse cx="540.4" cy="173.3" rx="4" ry="4.4" fill="#f7f7f7" stroke="#141414" stroke-width="1.4" transform="rotate(-30 540.4 173.3)"/>
<ellipse cx="540.8" cy="172.7" rx="1.9" ry="2.2" fill="#bbb" stroke="#141414" stroke-width="1.5" transform="rotate(-30 540.8 172.7)"/>
<line x1="562.5" y1="185.8" x2="550.3" y2="179.4" stroke="#141414" stroke-width="5.2" />
<line x1="562.5" y1="185.8" x2="550.3" y2="179.4" stroke="#777" stroke-width="3" stroke-dasharray="0.9 0.9"/>
<polygon points="560.4,181.6 564.4,181.4 566.5,185.6 564.6,190 560.6,190.2 558.5,186" fill="#f7f7f7" stroke="#141414" stroke-width="1.4" stroke-linejoin="round" stroke-linecap="round" />
<line x1="564.4" y1="181.4" x2="560.6" y2="190.2" stroke="#141414" stroke-width="0.8" />
<path d="M478.2 185.1 Q482.4 181.7 486.6 185.1 L486.6 188.6 L478.2 188.6 Z" fill="#f7f7f7" stroke="#141414" stroke-width="1.2" stroke-linejoin="round" stroke-linecap="round" />
<line x1="480.9" y1="184.5" x2="480.9" y2="188.6" stroke="#141414" stroke-width="0.8" />
<line x1="480.5" y1="188.6" x2="480.5" y2="196.3" stroke="#141414" stroke-width="1.1" />
<line x1="484.3" y1="188.6" x2="484.3" y2="196.3" stroke="#141414" stroke-width="1.1" />
<line x1="480.5" y1="196.3" x2="484.3" y2="196.3" stroke="#141414" stroke-width="1" />
<line x1="482.4" y1="190.1" x2="482.4" y2="196.3" stroke="#555" stroke-width="3.2" stroke-dasharray="0.8 0.8"/>
<ellipse cx="482.4" cy="205.2" rx="4.2" ry="2.2" fill="#141414" stroke="#141414" stroke-width="1.1"/>
<ellipse cx="482.4" cy="204.4" rx="4.2" ry="2.2" fill="#555" stroke="#141414" stroke-width="1.1"/>
<ellipse cx="482.4" cy="204.3" rx="1.8" ry="0.9" fill="#f7f7f7" stroke="#141414" stroke-width="0.8"/>
<polyline points="487.2,214 487.2,215.6 484.8,218.4 480,218.4 477.6,215.6 477.6,214" fill="#333" stroke="#141414" stroke-width="1.2" stroke-linejoin="round" stroke-linecap="round" />
<polygon points="487.2,214 484.8,216.8 480,216.8 477.6,214 480,211.2 484.8,211.2" fill="#4a4a4a" stroke="#141414" stroke-width="1.3" stroke-linejoin="round" stroke-linecap="round" />
<ellipse cx="482.4" cy="214" rx="2.2" ry="1.4" fill="#bbb" stroke="#141414" stroke-width="1.2"/>
<path d="M432.7 211.8 Q436.9 208.4 441.1 211.8 L441.1 215.3 L432.7 215.3 Z" fill="#f7f7f7" stroke="#141414" stroke-width="1.2" stroke-linejoin="round" stroke-linecap="round" />
<line x1="435.4" y1="211.2" x2="435.4" y2="215.3" stroke="#141414" stroke-width="0.8" />
<line x1="435" y1="215.3" x2="435" y2="222.3" stroke="#141414" stroke-width="1.1" />
<line x1="438.8" y1="215.3" x2="438.8" y2="222.3" stroke="#141414" stroke-width="1.1" />
<line x1="435" y1="222.3" x2="438.8" y2="222.3" stroke="#141414" stroke-width="1" />
<line x1="436.9" y1="216.8" x2="436.9" y2="222.3" stroke="#555" stroke-width="3.2" stroke-dasharray="0.8 0.8"/>
<ellipse cx="436.3" cy="232.3" rx="4.2" ry="2.2" fill="#141414" stroke="#141414" stroke-width="1.1"/>
<ellipse cx="436.3" cy="231.5" rx="4.2" ry="2.2" fill="#555" stroke="#141414" stroke-width="1.1"/>
<ellipse cx="436.3" cy="231.4" rx="1.8" ry="0.9" fill="#f7f7f7" stroke="#141414" stroke-width="0.8"/>
<polyline points="441,242.2 441,243.8 438.6,246.6 433.8,246.6 431.4,243.8 431.4,242.2" fill="#333" stroke="#141414" stroke-width="1.2" stroke-linejoin="round" stroke-linecap="round" />
<polygon points="441,242.2 438.6,245 433.8,245 431.4,242.2 433.8,239.4 438.6,239.4" fill="#4a4a4a" stroke="#141414" stroke-width="1.3" stroke-linejoin="round" stroke-linecap="round" />
<ellipse cx="436.2" cy="242.2" rx="2.2" ry="1.4" fill="#bbb" stroke="#141414" stroke-width="1.2"/>
<polygon points="445.7,207.2 449,204.8 484.7,223.4 481,226" fill="#f7f7f7" stroke="#141414" stroke-width="1.2" stroke-linejoin="round" stroke-linecap="round" />
<line x1="445.9" y1="208.2" x2="481" y2="226.8" stroke="#141414" stroke-width="1.8" />
<circle cx="450" cy="207.8" r="0.7" fill="#333"/>
<circle cx="479" cy="223" r="0.7" fill="#333"/>
<line x1="462" y1="215.5" x2="466.5" y2="218.5" stroke="#141414" stroke-width="1.6" />
<path d="M646.6 338.3 Q650.8 334.9 655 338.3 L655 341.8 L646.6 341.8 Z" fill="#f7f7f7" stroke="#141414" stroke-width="1.2" stroke-linejoin="round" stroke-linecap="round" />
<line x1="649.3" y1="337.7" x2="649.3" y2="341.8" stroke="#141414" stroke-width="0.8" />
<line x1="648.9" y1="341.8" x2="648.9" y2="350" stroke="#141414" stroke-width="1.1" />
<line x1="652.7" y1="341.8" x2="652.7" y2="350" stroke="#141414" stroke-width="1.1" />
<line x1="648.9" y1="350" x2="652.7" y2="350" stroke="#141414" stroke-width="1" />
<line x1="650.8" y1="343.3" x2="650.8" y2="350" stroke="#555" stroke-width="3.2" stroke-dasharray="0.8 0.8"/>
<ellipse cx="650.1" cy="360.4" rx="4.4" ry="2.4" fill="#141414" stroke="#141414" stroke-width="1.1"/>
<ellipse cx="650.1" cy="359.6" rx="4.4" ry="2.4" fill="#555" stroke="#141414" stroke-width="1.1"/>
<ellipse cx="650.1" cy="359.5" rx="1.8" ry="1" fill="#f7f7f7" stroke="#141414" stroke-width="0.8"/>
<ellipse cx="650.1" cy="369.8" rx="5" ry="2.6" fill="#141414" stroke="#141414" stroke-width="1"/>
<ellipse cx="650.1" cy="369.2" rx="1.6" ry="0.8" fill="#aaa" stroke="#141414" stroke-width="0.5"/>
<polyline points="654.8,381.8 654.8,383.4 652.4,386.2 647.6,386.2 645.2,383.4 645.2,381.8" fill="#333" stroke="#141414" stroke-width="1.2" stroke-linejoin="round" stroke-linecap="round" />
<polygon points="654.8,381.8 652.4,384.6 647.6,384.6 645.2,381.8 647.6,379 652.4,379" fill="#4a4a4a" stroke="#141414" stroke-width="1.3" stroke-linejoin="round" stroke-linecap="round" />
<ellipse cx="650" cy="381.8" rx="2.2" ry="1.4" fill="#bbb" stroke="#141414" stroke-width="1.2"/>
<ellipse cx="668.3" cy="301.3" rx="2.6" ry="2.2" fill="#f7f7f7" stroke="#141414" stroke-width="1.1"/>
<line x1="668.3" y1="303.5" x2="668.3" y2="309.3" stroke="#141414" stroke-width="1.8" />
<ellipse cx="657" cy="317" rx="7.6" ry="5" fill="#f7f7f7" stroke="#141414" stroke-width="1.2" transform="rotate(-25 657 317)"/>
<ellipse cx="657" cy="315.5" rx="7.6" ry="5" fill="#f7f7f7" stroke="#141414" stroke-width="1.3" transform="rotate(-25 657 315.5)"/>
<ellipse cx="657.3" cy="315" rx="5.6" ry="3.4" fill="#f7f7f7" stroke="#141414" stroke-width="0.9" transform="rotate(-25 657.3 315)"/>
<ellipse cx="640" cy="323.8" rx="4.8" ry="5.2" fill="#f7f7f7" stroke="#141414" stroke-width="1.2" transform="rotate(20 640 323.8)"/>
<path d="M637.3 328 L636 333 L637.5 336.5 L640 333 L641.5 328.6" fill="none" stroke="#141414" stroke-width="1" stroke-linejoin="round" stroke-linecap="round" />
<line x1="638.2" y1="321" x2="639.6" y2="326.5" stroke="#141414" stroke-width="0.8" />
<line x1="636.2" y1="333.5" x2="639.5" y2="332.5" stroke="#141414" stroke-width="0.8" />
<line x1="734.8" y1="295.6" x2="745.4" y2="301" stroke="#141414" stroke-width="4.8" />
<line x1="734.8" y1="295.6" x2="745.4" y2="301" stroke="#777" stroke-width="2.6" stroke-dasharray="0.9 0.9"/>
<polygon points="737,299.8 733,300.1 730.8,295.9 732.6,291.4 736.6,291.1 738.8,295.3" fill="#f7f7f7" stroke="#141414" stroke-width="1.4" stroke-linejoin="round" stroke-linecap="round" />
<line x1="733" y1="300.1" x2="736.6" y2="291.1" stroke="#141414" stroke-width="0.8" />
<line x1="748.8" y1="298.4" x2="760" y2="296" stroke="#141414" stroke-width="1" />
<polygon points="764.5,295 758,298.2 757.3,294.9" fill="#141414" stroke="#141414" stroke-width="0.5" stroke-linejoin="round" stroke-linecap="round" />
<ellipse cx="749.8" cy="305.5" rx="2.4" ry="3.8" fill="#333" stroke="#141414" stroke-width="1.2" transform="rotate(32 749.8 305.5)"/>
<ellipse cx="758.9" cy="309.6" rx="3.2" ry="4.6" fill="#555" stroke="#141414" stroke-width="1.4" transform="rotate(28 758.9 309.6)"/>
<ellipse cx="759.2" cy="309.3" rx="1.3" ry="2.2" fill="#f7f7f7" stroke="#141414" stroke-width="0.8" transform="rotate(28 759.2 309.3)"/>
<ellipse cx="769" cy="315.2" rx="4.9" ry="5.3" fill="#f7f7f7" stroke="#141414" stroke-width="1.4" transform="rotate(25 769 315.2)"/>
<polyline points="766,311.5 768.5,319.5" fill="none" stroke="#141414" stroke-width="1" stroke-linejoin="round" stroke-linecap="round" />
<polyline points="768.5,310.3 772.5,312 772.8,318.2" fill="none" stroke="#141414" stroke-width="1" stroke-linejoin="round" stroke-linecap="round" />
<ellipse cx="770.2" cy="314.6" rx="1.6" ry="2" fill="#888" stroke="#141414" stroke-width="1"/>
<polygon points="759.9,282.2 762.4,280.2 765.4,280.7 769.5,278.2 773.5,277.2 774.5,274.6 781.1,271.1 782.1,272.1 781.6,279.2 778.6,288.3 778.6,295.4 774.5,297.9 771,297.4 765.4,293.3 763.9,288.3 760.9,285.8" fill="#f7f7f7" stroke="#141414" stroke-width="1.5" stroke-linejoin="round" stroke-linecap="round" />
<polyline points="771.3,279.5 771.9,297" fill="none" stroke="#141414" stroke-width="1.6" stroke-linejoin="round" stroke-linecap="round" />
<polyline points="774.6,279 775.1,296.5" fill="none" stroke="#141414" stroke-width="1.2" stroke-linejoin="round" stroke-linecap="round" />
<polyline points="776.5,275 778,284 775.5,288" fill="none" stroke="#141414" stroke-width="1.2" stroke-linejoin="round" stroke-linecap="round" />
<polyline points="765.4,280.7 767,287 771.5,289.5" fill="none" stroke="#141414" stroke-width="1.1" stroke-linejoin="round" stroke-linecap="round" />
<ellipse cx="762.2" cy="283.5" rx="2" ry="2.3" fill="#f7f7f7" stroke="#141414" stroke-width="1.3"/>
<circle cx="776" cy="283" r="0.8" fill="#333"/>
<circle cx="779.5" cy="276" r="0.8" fill="#333"/>
<line x1="759" y1="271.8" x2="697" y2="285.3" stroke="#141414" stroke-width="0.8" />
<polygon points="692.5,286.3 700,283 700.7,286.2" fill="#141414" stroke="#141414" stroke-width="0.5" stroke-linejoin="round" stroke-linecap="round" />
<polygon points="464.3,423.5 469.8,412.4 472.4,412.4 475.4,420.4 478.4,423 469.8,429 465.3,427.5" fill="#f7f7f7" stroke="#141414" stroke-width="1.5" stroke-linejoin="round" stroke-linecap="round" />
<polyline points="466.3,425 474.8,420.6" fill="none" stroke="#141414" stroke-width="1.1" stroke-linejoin="round" stroke-linecap="round" />
<polyline points="469.8,412.8 466,424.5" fill="none" stroke="#141414" stroke-width="0.9" stroke-linejoin="round" stroke-linecap="round" />
<circle cx="470.4" cy="418.4" r="0.9" fill="#333"/>
<line x1="444" y1="408.8" x2="461.7" y2="420.4" stroke="#141414" stroke-width="0.9" />
<line x1="446.5" y1="410.8" x2="460.7" y2="424" stroke="#141414" stroke-width="0.9" />
<line x1="480.5" y1="417.3" x2="487.5" y2="415.8" stroke="#141414" stroke-width="0.9" />
<polygon points="479,417.8 484.9,414.6 485.7,417.5" fill="#141414" stroke="#141414" stroke-width="0.5" stroke-linejoin="round" stroke-linecap="round" />
<polyline points="492.6,399.2 488,400.7 487.5,429.5 488.6,430.4" fill="none" stroke="#141414" stroke-width="1" stroke-linejoin="round" stroke-linecap="round" />
<path d="M491.3 406 Q495.8 402.6 500.3 406 L500.3 410 L491.3 410 Z" fill="#f7f7f7" stroke="#141414" stroke-width="1.2" stroke-linejoin="round" stroke-linecap="round" />
<line x1="494.2" y1="405.4" x2="494.2" y2="410" stroke="#141414" stroke-width="0.8" />
<line x1="493.6" y1="410" x2="493.6" y2="421" stroke="#141414" stroke-width="1.1" />
<line x1="498" y1="410" x2="498" y2="421" stroke="#141414" stroke-width="1.1" />
<line x1="493.6" y1="421" x2="498" y2="421" stroke="#141414" stroke-width="1" />
<line x1="495.8" y1="411.5" x2="495.8" y2="421" stroke="#555" stroke-width="3.8" stroke-dasharray="0.8 0.8"/>
<polyline points="501.7,430.6 501.7,432.2 499.4,435.3 494.8,435.3 492.5,432.2 492.5,430.6" fill="#333" stroke="#141414" stroke-width="1.2" stroke-linejoin="round" stroke-linecap="round" />
<polygon points="501.7,430.6 499.4,433.7 494.8,433.7 492.5,430.6 494.8,427.5 499.4,427.5" fill="#f7f7f7" stroke="#141414" stroke-width="1.3" stroke-linejoin="round" stroke-linecap="round" />
<ellipse cx="497.1" cy="430.6" rx="2.1" ry="1.6" fill="#777" stroke="#141414" stroke-width="1.2"/>
<line x1="61" y1="431.6" x2="71.2" y2="436.5" stroke="#141414" stroke-width="4.4" />
<line x1="61" y1="431.6" x2="71.2" y2="436.5" stroke="#777" stroke-width="2.2" stroke-dasharray="0.9 0.9"/>
<polygon points="63.1,435.4 59.4,435.7 57.3,431.9 58.9,427.8 62.6,427.5 64.7,431.3" fill="#f7f7f7" stroke="#141414" stroke-width="1.4" stroke-linejoin="round" stroke-linecap="round" />
<line x1="59.4" y1="435.7" x2="62.6" y2="427.5" stroke="#141414" stroke-width="0.8" />
<polyline points="105,479.8 105,481.4 102.9,485 98.7,485 96.6,481.4 96.6,479.8" fill="#333" stroke="#141414" stroke-width="1.2" stroke-linejoin="round" stroke-linecap="round" />
<polygon points="105,479.8 102.9,483.4 98.7,483.4 96.6,479.8 98.7,476.2 102.9,476.2" fill="#4a4a4a" stroke="#141414" stroke-width="1.3" stroke-linejoin="round" stroke-linecap="round" />
<ellipse cx="100.8" cy="479.8" rx="1.9" ry="1.9" fill="#bbb" stroke="#141414" stroke-width="1.2"/>
<polyline points="189.5,349 189.5,350.6 187.3,353.7 182.9,353.7 180.7,350.6 180.7,349" fill="#333" stroke="#141414" stroke-width="1.2" stroke-linejoin="round" stroke-linecap="round" />
<polygon points="189.5,349 187.3,352.1 182.9,352.1 180.7,349 182.9,345.9 187.3,345.9" fill="#4a4a4a" stroke="#141414" stroke-width="1.3" stroke-linejoin="round" stroke-linecap="round" />
<ellipse cx="185.1" cy="349" rx="2" ry="1.6" fill="#bbb" stroke="#141414" stroke-width="1.2"/>
<path d="M394.2 386.5 L399.5 371.8 L401.2 373 L403.6 376.5 L406 375.9 L406.3 380.1 L404.2 382.7 L400.6 380.6 L398.9 383.6 L396.5 387.1 Z" fill="#f7f7f7" stroke="#141414" stroke-width="1.5" stroke-linejoin="round" stroke-linecap="round" />
<line x1="400.3" y1="374" x2="396.5" y2="385.5" stroke="#141414" stroke-width="1.2" />
<path d="M330.4 349.7 L330 346.3 L333.7 342.3 L335.8 335.5 L337.8 336.2 L339.1 338.2 L342.2 338.6 L342.8 342.9 L340.5 344.6 L337.4 342.6 L335.1 345 L333.7 348.3 L331.7 350.4 Z" fill="#f7f7f7" stroke="#141414" stroke-width="1.5" stroke-linejoin="round" stroke-linecap="round" />
<line x1="336.6" y1="337.5" x2="331.5" y2="348.5" stroke="#141414" stroke-width="1.2" />
<line x1="308.1" y1="330.5" x2="329.7" y2="339.6" stroke="#141414" stroke-width="0.9" />
<line x1="308.1" y1="330.5" x2="329" y2="342.6" stroke="#141414" stroke-width="0.9" />
<path d="M252 306.5 L259.5 293.5 L262 293.3 L267 303.5 L262.5 304.5 L256.5 308.3 Z" fill="#f7f7f7" stroke="#141414" stroke-width="1.4" stroke-linejoin="round" stroke-linecap="round" />
<polyline points="259.5,293.5 258.5,305 262.5,304.5" fill="none" stroke="#141414" stroke-width="0.9" stroke-linejoin="round" stroke-linecap="round" />
<circle cx="261.8" cy="299.8" r="0.9" fill="#333"/>
<polyline points="252,306.5 254.5,309 256.5,308.3" fill="none" stroke="#141414" stroke-width="1.2" stroke-linejoin="round" stroke-linecap="round" />
<line x1="504.1" y1="18.1" x2="494.9" y2="29.6" stroke="#555" stroke-width="0.7" />
<line x1="532.8" y1="31.3" x2="522.9" y2="42.8" stroke="#555" stroke-width="0.7" />
<line x1="564.1" y1="51.1" x2="555.9" y2="62.6" stroke="#555" stroke-width="0.7" />
<line x1="605.3" y1="72.5" x2="593.7" y2="86.3" stroke="#555" stroke-width="0.7" />
<line x1="344.8" y1="113.8" x2="336.6" y2="123.7" stroke="#555" stroke-width="0.7" />
<line x1="377.7" y1="131.3" x2="369.5" y2="142.2" stroke="#555" stroke-width="0.7" />
<line x1="413" y1="151.1" x2="404.1" y2="162.6" stroke="#555" stroke-width="0.7" />
<line x1="446" y1="173.3" x2="439.1" y2="180.9" stroke="#555" stroke-width="0.7" />
<line x1="487" y1="187.8" x2="494.5" y2="185.5" stroke="#555" stroke-width="0.7" />
<line x1="485.4" y1="203.7" x2="492.3" y2="201.4" stroke="#555" stroke-width="0.7" />
<line x1="487" y1="214.3" x2="496" y2="214.3" stroke="#555" stroke-width="0.7" />
<line x1="481.6" y1="225.7" x2="487.7" y2="228.7" stroke="#555" stroke-width="0.7" />
<line x1="439.1" y1="221.9" x2="446" y2="225" stroke="#555" stroke-width="0.7" />
<line x1="426.2" y1="236.3" x2="433.8" y2="232.5" stroke="#555" stroke-width="0.7" />
<line x1="440.7" y1="243.1" x2="450.5" y2="247.7" stroke="#555" stroke-width="0.7" />
<line x1="779.7" y1="287.6" x2="804.7" y2="294.8" stroke="#555" stroke-width="0.7" />
<line x1="731.6" y1="309" x2="737.1" y2="302.4" stroke="#555" stroke-width="0.7" />
<line x1="741.7" y1="314.1" x2="746.7" y2="309" stroke="#555" stroke-width="0.7" />
<line x1="752.3" y1="318.1" x2="756.3" y2="314.6" stroke="#555" stroke-width="0.7" />
<line x1="768.3" y1="324.8" x2="769" y2="320.2" stroke="#555" stroke-width="0.7" />
<line x1="636.1" y1="414.5" x2="628.9" y2="436.9" stroke="#555" stroke-width="0.7" />
<line x1="483.5" y1="389.6" x2="472.4" y2="411.9" stroke="#555" stroke-width="0.7" />
<line x1="498.6" y1="403.8" x2="508.8" y2="393.1" stroke="#555" stroke-width="0.7" />
<line x1="501.7" y1="431.4" x2="518.4" y2="431.4" stroke="#555" stroke-width="0.7" />
<line x1="385.6" y1="391.4" x2="396" y2="383.6" stroke="#555" stroke-width="0.7" />
<line x1="346.8" y1="421.2" x2="363.6" y2="438" stroke="#555" stroke-width="0.7" />
<line x1="294.1" y1="455" x2="299.3" y2="477" stroke="#555" stroke-width="0.7" />
<line x1="168.5" y1="544.2" x2="182.7" y2="547.3" stroke="#555" stroke-width="0.7" />
<line x1="219.3" y1="409.4" x2="229.6" y2="401.6" stroke="#555" stroke-width="0.7" />
<line x1="216.7" y1="343.4" x2="234.8" y2="355.1" stroke="#555" stroke-width="0.7" />
<line x1="155.9" y1="351.2" x2="180.5" y2="366.7" stroke="#555" stroke-width="0.7" />
<line x1="174" y1="341.6" x2="181.8" y2="347.3" stroke="#555" stroke-width="0.7" />
<line x1="131" y1="396.8" x2="146.6" y2="407.2" stroke="#555" stroke-width="0.7" />
<line x1="64" y1="417.4" x2="61.9" y2="427.7" stroke="#555" stroke-width="0.7" />
<line x1="103.2" y1="471.6" x2="101.2" y2="476.8" stroke="#555" stroke-width="0.7" />
<line x1="28.9" y1="476.8" x2="40" y2="476" stroke="#555" stroke-width="0.7" />
<line x1="653.1" y1="349.9" x2="656.9" y2="352.2" stroke="#555" stroke-width="0.7" />
<line x1="641" y1="362.8" x2="646.3" y2="360.6" stroke="#555" stroke-width="0.7" />
<line x1="655.4" y1="371.9" x2="662.2" y2="372.7" stroke="#555" stroke-width="0.7" />
<line x1="655.2" y1="383" x2="661.8" y2="384.5" stroke="#555" stroke-width="0.7" />
<g class="lb">
<text x="504.1" y="23.6" font-size="20" >7</text>
<text x="535.4" y="35.1" font-size="20" >6</text>
<text x="566.7" y="55.8" font-size="20" >6</text>
<text x="606.9" y="76.3" font-size="20" >8</text>
<text x="344.1" y="118.6" font-size="20" >4</text>
<text x="377.7" y="135.1" font-size="20" >3</text>
<text x="413.3" y="154.8" font-size="20" >3</text>
<text x="447.5" y="177.3" font-size="20" >5</text>
<text x="493.9" y="188.4" font-size="20" >31</text>
<text x="497.5" y="205.4" font-size="20" >38</text>
<text x="496.7" y="223.4" font-size="20" >35</text>
<text x="486.2" y="243.6" font-size="20" >21</text>
<text x="443" y="233" font-size="20" >33</text>
<text x="398.3" y="247.5" font-size="20" >39</text>
<text x="447.8" y="259.8" font-size="20" >36</text>
<text x="804.8" y="301" font-size="20" >2</text>
<text x="705.4" y="314.4" font-size="20" >30</text>
<text x="715.3" y="330.2" font-size="20" >40</text>
<text x="735.4" y="339.7" font-size="20" >38</text>
<text x="766.8" y="342" font-size="20" >35</text>
<text x="672.1" y="317.8" font-size="20" >41</text>
<text x="660" y="352" font-size="20" >31</text>
<text x="616.8" y="364.9" font-size="20" >38</text>
<text x="661.5" y="370.9" font-size="20" >40</text>
<text x="662.1" y="392.6" font-size="20" >35</text>
<text x="637.3" y="411.9" font-size="20" >1</text>
<text x="479.4" y="385.4" font-size="20" >22</text>
<text x="511.8" y="393.2" font-size="20" >34</text>
<text x="520.8" y="433.3" font-size="20" >36</text>
<text x="364.2" y="397.1" font-size="20" >23</text>
<text x="331.9" y="419.1" font-size="20" >17</text>
<text x="288.1" y="451.7" font-size="20" >16</text>
<text x="148.3" y="540.8" font-size="20" >15</text>
<text x="228.8" y="406.8" font-size="20" >18</text>
<text x="200.5" y="341.3" font-size="20" >17</text>
<text x="138.4" y="348.3" font-size="20" >19</text>
<text x="164.2" y="336.1" font-size="20" >37</text>
<text x="126.6" y="394.5" font-size="20" >16</text>
<text x="66.9" y="415.4" font-size="20" >34</text>
<text x="108.7" y="472.9" font-size="20" >36</text>
<text x="8.3" y="481.7" font-size="20" >15</text>
</g>
<text x="244.2 302.4 357.1 384.2 428.2 485.5 541.6 571.4" y="331.5" font-size="98" fill="none" stroke="#807878" stroke-width="1">AutoSoft</text>
</svg>
</body></html>
